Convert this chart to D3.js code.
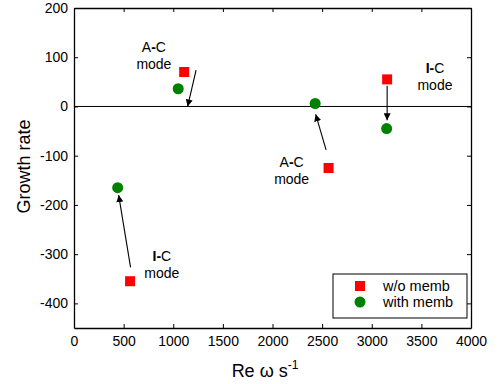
<!DOCTYPE html>
<html>
<head>
<meta charset="utf-8">
<script src="https://cdn.jsdelivr.net/npm/d3@7"></script>
<style>
  body { margin: 0; background: #fff; }
  text { font-family: Arial, "Liberation Sans", Helvetica, sans-serif; }
</style>
</head>
<body>
<div id="chart"></div>
<script>
// Data
const withoutMemb = [
    { x: 1110, y: 70 },
    { x: 2565, y: -125 },
    { x: 3155, y: 55 },
    { x: 565, y: -355 }
];
const withMemb = [
    { x: 1050, y: 36 },
    { x: 2430, y: 6 },
    { x: 3150, y: -45 },
    { x: 440, y: -165 }
];
// arrows (from -> to) in data units
const arrows = [
    { x1: 1230, y1: 74, x2: 1145, y2: 0 },
    { x1: 2540, y1: -88, x2: 2435, y2: -16 },
    { x1: 3155, y1: 42, x2: 3155, y2: -28 },
    { x1: 570, y1: -327, x2: 450, y2: -180 }
];
const notes = [
    { x: 805, y: 110, a: "A", b: "C" },
    { x: 2193, y: -123, a: "A", b: "C" },
    { x: 3637, y: 67, a: "I", b: "C" },
    { x: 885, y: -314, a: "I", b: "C" }
];
const xTicks = [0, 500, 1000, 1500, 2000, 2500, 3000, 3500, 4000];
const yTicks = [200, 100, 0, -100, -200, -300, -400];
const legendItems = ["w/o memb", "with memb"];

const width = 501, height = 384;
const margin = { left: 74, right: 30, top: 8, bottom: 56 };

const svg = d3.select("#chart").append("svg")
    .attr("width", width)
    .attr("height", height);

const x = d3.scaleLinear().domain([0, 4000]).range([margin.left, width - margin.right]);
const y = d3.scaleLinear().domain([-450, 200]).range([height - margin.bottom, margin.top]);

// Arrowhead marker
svg.append("defs").append("marker")
    .attr("id", "head")
    .attr("viewBox", "0 0 10 10")
    .attr("refX", 10).attr("refY", 5)
    .attr("markerWidth", 7).attr("markerHeight", 7)
    .attr("markerUnits", "userSpaceOnUse")
    .attr("orient", "auto")
    .append("path")
    .attr("d", "M0,0 L10,5 L0,10 Z")
    .attr("fill", "#000");

// zero line
svg.append("line")
    .attr("x1", x(0)).attr("x2", x(4000))
    .attr("y1", y(0)).attr("y2", y(0))
    .attr("stroke", "#000").attr("stroke-width", 1);

// Axes: ticks inside on all four sides
const fmt = d => d < 0 ? "-" + Math.abs(d) : String(d);
const axBottom = svg.append("g")
    .attr("transform", `translate(0,${y(-450)})`)
    .call(d3.axisBottom(x).tickValues(xTicks).tickFormat(fmt).tickSizeInner(-4).tickSizeOuter(0).tickPadding(8));
const axLeft = svg.append("g")
    .attr("transform", `translate(${x(0)},0)`)
    .call(d3.axisLeft(y).tickValues(yTicks).tickFormat(fmt).tickSizeInner(-4).tickSizeOuter(0).tickPadding(6));
const axTop = svg.append("g")
    .attr("transform", `translate(0,${y(200)})`)
    .call(d3.axisTop(x).tickValues(xTicks).tickSizeInner(-4).tickSizeOuter(0).tickFormat(""));
const axRight = svg.append("g")
    .attr("transform", `translate(${x(4000)},0)`)
    .call(d3.axisRight(y).tickValues(yTicks).tickSizeInner(-4).tickSizeOuter(0).tickFormat(""));

[axBottom, axLeft, axTop, axRight].forEach(g => {
    g.select(".domain").attr("stroke", "#000").attr("stroke-width", 1.3);
    g.selectAll(".tick line").attr("stroke", "#000");
    g.selectAll(".tick text").attr("font-size", 14).attr("fill", "#000")
        .style("font-family", "Arial, 'Liberation Sans', sans-serif");
});

// Axis titles
svg.append("text")
    .attr("x", 265).attr("y", 377)
    .attr("text-anchor", "middle")
    .attr("font-size", 18)
    .text("Re ω s")
    .append("tspan").attr("dy", -8).attr("font-size", 12).text("-1");

svg.append("text")
    .attr("transform", `translate(30,${y(-122)}) rotate(-90)`)
    .attr("text-anchor", "middle")
    .attr("font-size", 18)
    .text("Growth rate");

// arrows
svg.append("g").selectAll("line")
    .data(arrows)
    .enter().append("line")
    .attr("x1", d => x(d.x1)).attr("y1", d => y(d.y1))
    .attr("x2", d => x(d.x2)).attr("y2", d => y(d.y2))
    .attr("stroke", "#000").attr("stroke-width", 1.1)
    .attr("marker-end", "url(#head)");

// points
svg.append("g").selectAll("rect")
    .data(withoutMemb)
    .enter().append("rect")
    .attr("x", d => x(d.x) - 5).attr("y", d => y(d.y) - 5)
    .attr("width", 10).attr("height", 10)
    .attr("fill", "#ff0000");

svg.append("g").selectAll("circle")
    .data(withMemb)
    .enter().append("circle")
    .attr("cx", d => x(d.x)).attr("cy", d => y(d.y))
    .attr("r", 5.5)
    .attr("fill", "#008000");

// mode labels
const note = svg.append("g").selectAll("g")
    .data(notes)
    .enter().append("g")
    .attr("transform", d => `translate(${x(d.x)},${y(d.y)})`);
note.append("text")
    .attr("text-anchor", "middle")
    .attr("font-size", 14)
    .call(t => {
        t.append("tspan").attr("font-weight", d => d.a === "I" ? "bold" : "normal").text(d => d.a);
        t.append("tspan").attr("font-weight", "bold").text("-");
        t.append("tspan").text(d => d.b);
    });
note.append("text")
    .attr("text-anchor", "middle")
    .attr("y", 17)
    .attr("font-size", 14)
    .text("mode");

// legend
const lg = svg.append("g").attr("transform", "translate(333,274)");
lg.append("rect")
    .attr("width", 134).attr("height", 44)
    .attr("fill", "#fff").attr("stroke", "#000").attr("stroke-width", 1);
const li = lg.selectAll("g.item")
    .data(legendItems)
    .enter().append("g")
    .attr("class", "item")
    .attr("transform", (d, i) => `translate(0,${12 + i * 16})`);
li.filter((d, i) => i === 0).append("rect")
    .attr("x", 22).attr("y", -5).attr("width", 10).attr("height", 10)
    .attr("fill", "#ff0000");
li.filter((d, i) => i === 1).append("circle")
    .attr("cx", 27).attr("cy", 0).attr("r", 5.5)
    .attr("fill", "#008000");
li.append("text")
    .attr("x", 50).attr("y", 5)
    .attr("font-size", 14.5)
    .text(d => d);
</script>
</body>
</html>
